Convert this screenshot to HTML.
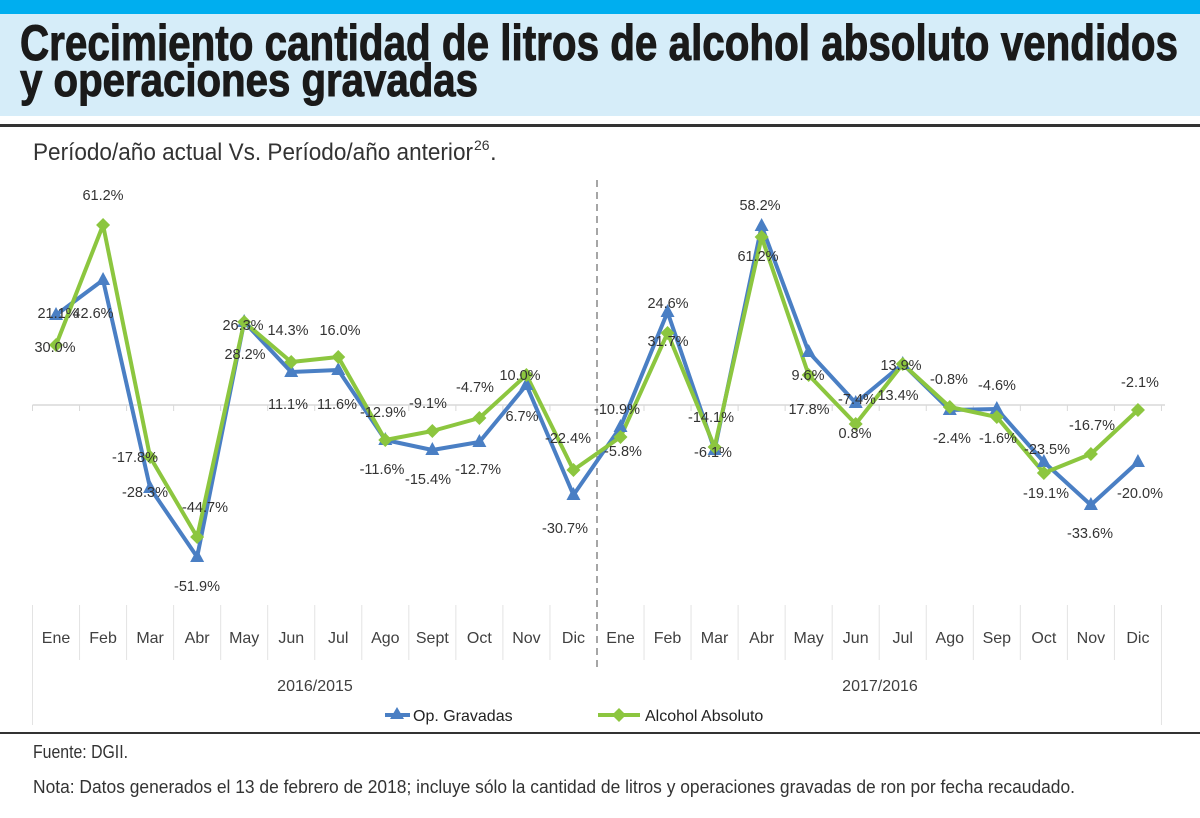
<!DOCTYPE html>
<html><head><meta charset="utf-8"><style>
html,body{margin:0;padding:0;background:#fff;width:1200px;height:818px;overflow:hidden}
svg{display:block}
.lb{font-family:"Liberation Sans",sans-serif;font-size:14.5px;fill:#333;text-anchor:middle}
.cat{font-family:"Liberation Sans",sans-serif;font-size:16px;fill:#404040;text-anchor:middle}
</style></head><body>
<svg width="1200" height="818" viewBox="0 0 1200 818" xmlns="http://www.w3.org/2000/svg">
<rect x="0" y="0" width="1200" height="14" fill="#00aeef"/>
<rect x="0" y="14" width="1200" height="102" fill="#d6edf9"/>
<text x="20" y="60" font-family="Liberation Sans,sans-serif" font-weight="bold" font-size="50" fill="#1a1a1a" stroke="#1a1a1a" stroke-width="1" textLength="1158" lengthAdjust="spacingAndGlyphs">Crecimiento cantidad de litros de alcohol absoluto vendidos</text>
<text x="20" y="96" font-family="Liberation Sans,sans-serif" font-weight="bold" font-size="46" fill="#1a1a1a" stroke="#1a1a1a" stroke-width="1" textLength="458" lengthAdjust="spacingAndGlyphs">y operaciones gravadas</text>
<rect x="0" y="124" width="1200" height="3" fill="#333"/>
<text x="33" y="160" font-family="Liberation Sans,sans-serif" font-size="24" fill="#333" textLength="440" lengthAdjust="spacingAndGlyphs">Período/año actual Vs. Período/año anterior</text>
<text x="474" y="150" font-family="Liberation Sans,sans-serif" font-size="14" fill="#333">26</text>
<text x="490" y="160" font-family="Liberation Sans,sans-serif" font-size="24" fill="#333">.</text>
<line x1="32.5" y1="405" x2="1165" y2="405" stroke="#d9d9d9" stroke-width="1.5"/>
<line x1="597" y1="180" x2="597" y2="668" stroke="#888" stroke-width="1.5" stroke-dasharray="7,5"/>
<g id="grid" stroke="#e0e0e0"></g>
<polyline id="blue" fill="none" stroke="#4a7fc4" stroke-width="4" stroke-linejoin="round"/>
<polyline id="green" fill="none" stroke="#8cc63f" stroke-width="4" stroke-linejoin="round"/>
<g id="mk"></g>
<g id="cats"></g>
<g id="lbls"></g>
<text class="cat" x="315" y="691">2016/2015</text>
<text class="cat" x="880" y="691">2017/2016</text>
<line x1="385" y1="715" x2="410" y2="715" stroke="#4a7fc4" stroke-width="4"/>
<polygon points="397,707 404,719 390,719" fill="#4a7fc4"/>
<text x="413" y="721" font-family="Liberation Sans,sans-serif" font-size="16" fill="#222">Op. Gravadas</text>
<line x1="598" y1="715" x2="640" y2="715" stroke="#8cc63f" stroke-width="4"/>
<polygon points="619,708 626,715 619,722 612,715" fill="#8cc63f"/>
<text x="645" y="721" font-family="Liberation Sans,sans-serif" font-size="16" fill="#222">Alcohol Absoluto</text>
<rect x="0" y="732" width="1200" height="2" fill="#333"/>
<text x="33" y="758" font-family="Liberation Sans,sans-serif" font-size="18" fill="#333" textLength="95" lengthAdjust="spacingAndGlyphs">Fuente: DGII.</text>
<text x="33" y="793" font-family="Liberation Sans,sans-serif" font-size="18" fill="#333" textLength="1042" lengthAdjust="spacingAndGlyphs">Nota: Datos generados el 13 de febrero de 2018; incluye sólo la cantidad de litros y operaciones gravadas de ron por fecha recaudado.</text>
</svg>
<script>
var NS="http://www.w3.org/2000/svg";
function el(t,a,p,txt){var e=document.createElementNS(NS,t);for(var k in a)e.setAttribute(k,a[k]);if(txt)e.textContent=txt;document.getElementById(p).appendChild(e);return e;}
var x0=32.5,st=47.04;
var B=[315,280,488,557,322,372,370,440,450,442,385,495,427,312,450,226,352,403,364,410,409,462,505,462];
var G=[345,225,457,537,322,362,357,440,431,418,375,470,437,333,447,237,375,424,364,407,417,473,454,410];
var cats=["Ene","Feb","Mar","Abr","May","Jun","Jul","Ago","Sept","Oct","Nov","Dic","Ene","Feb","Mar","Abr","May","Jun","Jul","Ago","Sep","Oct","Nov","Dic"];
var pb=[],pg=[];
for(var i=0;i<24;i++){var cx=x0+st*(i+0.5);pb.push(cx+","+B[i]);pg.push(cx+","+G[i]);
 el("text",{class:"cat",x:cx,y:643},"cats",cats[i]);}
for(var i=0;i<=24;i++){var x=x0+st*i;var y2=(i%12==0)?725:660;if(i!=12)el("line",{x1:x,y1:605,x2:x,y2:y2,stroke:"#e3e3e3"},"grid");
 el("line",{x1:x,y1:405,x2:x,y2:411,stroke:"#d9d9d9"},"grid");}
document.getElementById("blue").setAttribute("points",pb.join(" "));
document.getElementById("green").setAttribute("points",pg.join(" "));
for(var i=0;i<24;i++){var cx=x0+st*(i+0.5);
 el("polygon",{points:(cx)+","+(B[i]-8)+" "+(cx+7)+","+(B[i]+5)+" "+(cx-7)+","+(B[i]+5),fill:"#4a7fc4"},"mk");}
for(var i=0;i<24;i++){var cx=x0+st*(i+0.5);
 el("polygon",{points:cx+","+(G[i]-7)+" "+(cx+7)+","+G[i]+" "+cx+","+(G[i]+7)+" "+(cx-7)+","+G[i],fill:"#8cc63f"},"mk");}
var L=[["61.2%",103,200],["21.1%",58,318],["42.6%",93,318],["30.0%",55,352],["-17.8%",135,462],["-28.3%",145,497],["-44.7%",205,512],["-51.9%",197,591],["26.3%",243,330],["28.2%",245,359],["14.3%",288,335],["16.0%",340,335],["11.1%",288,409],["11.6%",337,409],["-12.9%",383,417],["-9.1%",428,408],["-4.7%",475,392],["-11.6%",382,474],["-15.4%",428,484],["-12.7%",478,474],["10.0%",520,380],["6.7%",522,421],["-22.4%",568,443],["-30.7%",565,533],["-10.9%",617,414],["-5.8%",623,456],["24.6%",668,308],["31.7%",668,346],["-14.1%",711,422],["-6.1%",713,457],["58.2%",760,210],["61.2%",758,261],["9.6%",808,380],["17.8%",809,414],["-7.4%",857,404],["0.8%",855,438],["13.9%",901,370],["13.4%",898,400],["-0.8%",949,384],["-2.4%",952,443],["-4.6%",997,390],["-1.6%",998,443],["-23.5%",1047,454],["-19.1%",1046,498],["-16.7%",1092,430],["-33.6%",1090,538],["-2.1%",1140,387],["-20.0%",1140,498]];
for(var j=0;j<L.length;j++){var l=L[j];el("text",{class:"lb",x:l[1],y:l[2]},"lbls",l[0]);}
</script>
</body></html>
